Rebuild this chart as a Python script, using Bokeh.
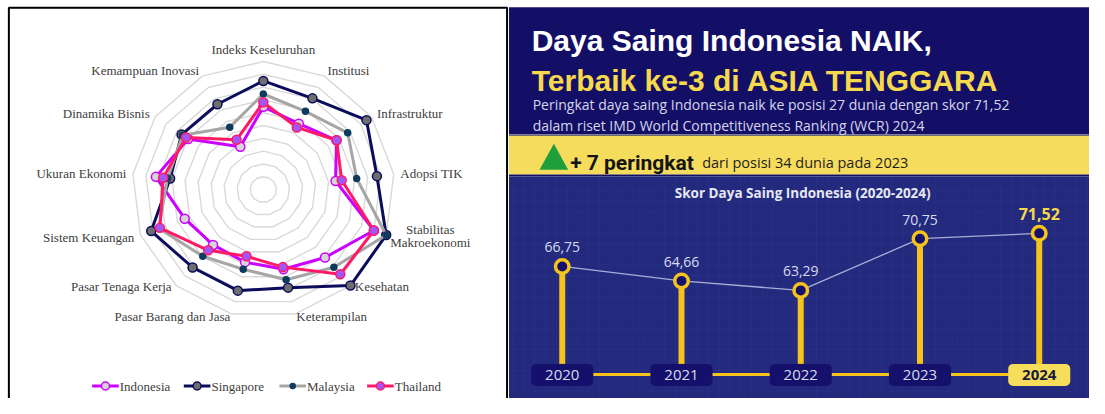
import numpy as np
from bokeh.plotting import figure
from bokeh.models import Range1d
from bokeh.embed import file_html
from bokeh.resources import INLINE
from bokeh.core.properties import value

# ---------------- data ----------------
categories = ["Indeks Keseluruhan", "Institusi", "Infrastruktur", "Adopsi TIK",
              "Stabilitas\nMakroekonomi", "Kesehatan", "Keterampilan",
              "Pasar Barang dan Jasa", "Pasar Tenaga Kerja", "Sistem Keuangan",
              "Ukuran Ekonomi", "Dinamika Bisnis", "Kemampuan Inovasi"]
indonesia = [64.6, 58.1, 67.7, 55.4, 90.0, 70.8, 64.0, 58.3, 57.7, 64.0, 82.4, 69.6, 37.7]
singapore = [84.8, 80.4, 95.4, 87.1, 100.0, 100.0, 78.8, 81.2, 81.2, 91.3, 71.5, 75.6, 75.2]
malaysia = [74.6, 69.0, 78.0, 71.6, 100.0, 81.0, 72.5, 64.0, 69.5, 85.2, 73.4, 74.6, 55.0]
thailand = [68.1, 54.8, 67.8, 60.1, 90.0, 88.3, 62.3, 53.6, 63.3, 84.2, 76.8, 71.5, 43.9]
series_names = ["Indonesia", "Singapore", "Malaysia", "Thailand"]
ring_levels = [10, 20, 30, 40, 50, 60, 70, 80, 90, 100]

years = [2020, 2021, 2022, 2023, 2024]
scores = [66.75, 64.66, 63.29, 70.75, 71.52]
score_labels = ["66,75", "64,66", "63,29", "70,75", "71,52"]
year_labels = ["2020", "2021", "2022", "2023", "2024"]

title1 = "Daya Saing Indonesia NAIK,"
title2 = "Terbaik ke-3 di ASIA TENGGARA"
sub1 = "Peringkat daya saing Indonesia naik ke posisi 27 dunia dengan skor 71,52"
sub2 = "dalam riset IMD World Competitiveness Ranking (WCR) 2024"
band_bold = "+ 7 peringkat"
band_text = "dari posisi 34 dunia pada 2023"
chart_title = "Skor Daya Saing Indonesia (2020-2024)"

# ---------------- figure: layout space 1105 x 414 mapped into the frame ----------------
W, H = 1089, 398
LW, LH = 1105, 414
p = figure(width=W, height=H, x_range=Range1d(0, LW), y_range=Range1d(LH, 0),
           output_backend="svg", toolbar_location=None, min_border=0,
           x_axis_location=None, y_axis_location=None)
p.grid.visible = False
p.outline_line_color = None
p.background_fill_color = "white"
p.border_fill_color = "white"

# ---------------- left panel: radar ----------------
p.quad(left=8.5, right=514, top=7.5, bottom=440, fill_color=None, line_color="black", line_width=2)

cx, cy, k = 266.7, 196.7, 1.333
n = len(categories)
theta = np.arange(n) * 2 * np.pi / n


def polar(vals):
    v = np.asarray(vals, dtype=float)
    xs = cx + v * k * np.sin(theta)
    ys = cy - v * k * np.cos(theta)
    return list(np.append(xs, xs[0])), list(np.append(ys, ys[0]))


gx, gy = [], []
for lv in ring_levels:
    a, b = polar([lv] * n)
    gx.append(a)
    gy.append(b)
p.multi_line(gx, gy, line_color="#d9d9d9", line_width=1.4)

styles = {
    "Indonesia": dict(line="#cc00ff", fill="#d6d6d6", outline="#cc00ff", size=9),
    "Singapore": dict(line="#0c0c5c", fill="#6e6e6e", outline="#0c0c5c", size=9),
    "Malaysia": dict(line="#a6a6a6", fill="#0e3a5e", outline="#0e3a5e", size=6),
    "Thailand": dict(line="#ff1a66", fill="#a455f5", outline="#ff1a66", size=9),
}
data_map = {"Indonesia": indonesia, "Singapore": singapore, "Malaysia": malaysia, "Thailand": thailand}
for name in series_names:
    st = styles[name]
    xs, ys = polar(data_map[name])
    p.line(xs, ys, line_color=st["line"], line_width=3)
    p.scatter(xs[:-1], ys[:-1], size=st["size"], fill_color=st["fill"],
              line_color=st["outline"], line_width=1.5)

# axis labels
serif = value("Liberation Serif")
R = 140
for i, cat in enumerate(categories):
    s, c = np.sin(theta[i]), np.cos(theta[i])
    ax, ay = cx + R * s, cy - R * c
    if s > 0.1:
        align = "left"
    elif s < -0.1:
        align = "right"
    else:
        align = "center"
    if c > 0.9:
        ay -= 6
    elif c < -0.5:
        ay -= 3.5
    lines = cat.split("\n")
    if len(lines) > 1:
        xx = ax + 38.5
        for j, ln in enumerate(lines):
            p.text(x=[xx], y=[ay - 8 + 13.5 * j], text=[ln], text_align="center",
                   text_baseline="middle", text_font=serif, text_font_size="13px",
                   text_color="#404040")
    else:
        p.text(x=[ax], y=[ay], text=[cat], text_align=align, text_baseline="middle",
               text_font=serif, text_font_size="13px", text_color="#404040")

# legend
leg_x = [106.5, 199.5, 296.5, 385.5]
leg_y = 401
for name, lx in zip(series_names, leg_x):
    st = styles[name]
    p.line([lx - 13.5, lx + 13.5], [leg_y, leg_y], line_color=st["line"], line_width=3)
    p.scatter([lx], [leg_y], size=st["size"] - 1, fill_color=st["fill"],
              line_color=st["outline"], line_width=1.5)
    p.text(x=[lx + 14.5], y=[leg_y], text=[name], text_align="left", text_baseline="middle",
           text_font=serif, text_font_size="13px", text_color="#404040")

# ---------------- right panel: infographic ----------------
p.quad(left=516, right=LW + 5, top=7, bottom=139, fill_color="#140f66", line_color=None)
p.quad(left=516, right=LW + 5, top=139, bottom=141, fill_color="#6a6a7a", line_color=None)
p.quad(left=516, right=LW + 5, top=141, bottom=181, fill_color="#f6dc5c", line_color=None)
p.quad(left=516, right=LW + 5, top=181, bottom=183, fill_color="#141060", line_color=None)
p.quad(left=516, right=LW + 5, top=183, bottom=LH + 5, fill_color="#232a7d", line_color=None)

# faint grid texture
tx = [[x, x] for x in range(520, LW, 11)]
ty = [[183, LH] for _ in tx]
p.multi_line(tx, ty, line_color="#3a44a0", line_alpha=0.2, line_width=1)
hx = [[516, LW] for _ in range(187, LH, 11)]
hy = [[y, y] for y in range(187, LH, 11)]
p.multi_line(hx, hy, line_color="#3a44a0", line_alpha=0.2, line_width=1)

sans_b = value("Liberation Sans")
p.text(x=[539], y=[42], text=[title1], text_font=sans_b, text_font_style="bold",
       text_font_size="30px", text_color="white", text_baseline="alphabetic")
p.text(x=[539], y=[83], text=[title2], text_font=sans_b, text_font_style="bold",
       text_font_size="30px", text_color="#f7d94c", text_baseline="alphabetic")
osans = value("Open Sans")
p.text(x=[540], y=[108], text=[sub1], text_font=osans, text_font_size="14px",
       text_color="#d4d6ea", text_baseline="alphabetic")
p.text(x=[540], y=[130], text=[sub2], text_font=osans, text_font_size="14px",
       text_color="#d4d6ea", text_baseline="alphabetic")

p.patch([547, 561.5, 576], [176, 149, 176], fill_color="#1f9e3c", line_color=None)
p.text(x=[578], y=[169], text=[band_bold], text_font=value("Roboto"), text_font_style="bold",
       text_font_size="21px", text_color="#141414", text_baseline="alphabetic")
p.text(x=[712], y=[169], text=[band_text], text_font=osans, text_font_size="14.5px",
       text_color="#1e1e1e", text_baseline="alphabetic")

p.text(x=[814], y=[200], text=[chart_title], text_font=osans, text_font_style="bold",
       text_font_size="13.5px", text_color="#e6e7f2", text_align="center", text_baseline="middle")

# lollipop scales (library ranges)
px_per_year, year0_px = 121.0, 570.0
px_per_score, ref_score, ref_px = 7.21, 67.39, 272.0
p.extra_x_ranges = {"yr": Range1d(2020 - year0_px / px_per_year,
                                  2020 + (LW - year0_px) / px_per_year)}
p.extra_y_ranges = {"score": Range1d(ref_score - (LH - ref_px) / px_per_score,
                                     ref_score + ref_px / px_per_score)}
stem_base = ref_score - (378 - ref_px) / px_per_score

yellow = "#f6c21c"
p.line(x=[years[0], years[-1]], y=[389, 389], x_range_name="yr", line_color=yellow, line_width=3)
p.line(x=years, y=scores, x_range_name="yr", y_range_name="score",
       line_color="#a9aed6", line_width=1.3)
p.segment(x0=years, y0=scores, x1=years, y1=[stem_base] * len(years),
          x_range_name="yr", y_range_name="score", line_color=yellow, line_width=6)
p.scatter(x=years, y=scores, x_range_name="yr", y_range_name="score", size=13.5,
          fill_color="#15106b", line_color=yellow, line_width=3.5)

half = 31.5 / px_per_year
box_fill = ["#15106b"] * (len(years) - 1) + ["#f7dd5c"]
p.quad(left=[y - half for y in years], right=[y + half for y in years],
       top=[378] * len(years), bottom=[401] * len(years), x_range_name="yr",
       fill_color=box_fill, line_color=None, border_radius=5)

p.text(x=years[:-1], y=[390] * (len(years) - 1), text=year_labels[:-1], x_range_name="yr",
       text_font=osans, text_font_size="15px", text_color="#d8dbf0",
       text_align="center", text_baseline="middle")
p.text(x=years[-1:], y=[390], text=year_labels[-1:], x_range_name="yr",
       text_font=osans, text_font_style="bold", text_font_size="15px", text_color="#1a1a3a",
       text_align="center", text_baseline="middle")

p.text(x=years[:-1], y=scores[:-1], text=score_labels[:-1], x_range_name="yr",
       y_range_name="score", y_offset=-19, text_font=osans, text_font_size="14px",
       text_color="#d8dbf0", text_align="center", text_baseline="middle")
p.text(x=years[-1:], y=scores[-1:], text=score_labels[-1:], x_range_name="yr",
       y_range_name="score", y_offset=-19, text_font=osans, text_font_style="bold",
       text_font_size="16px", text_color="#f7d94c", text_align="center", text_baseline="middle")

open("out.html", "w").write(file_html(p, INLINE))
